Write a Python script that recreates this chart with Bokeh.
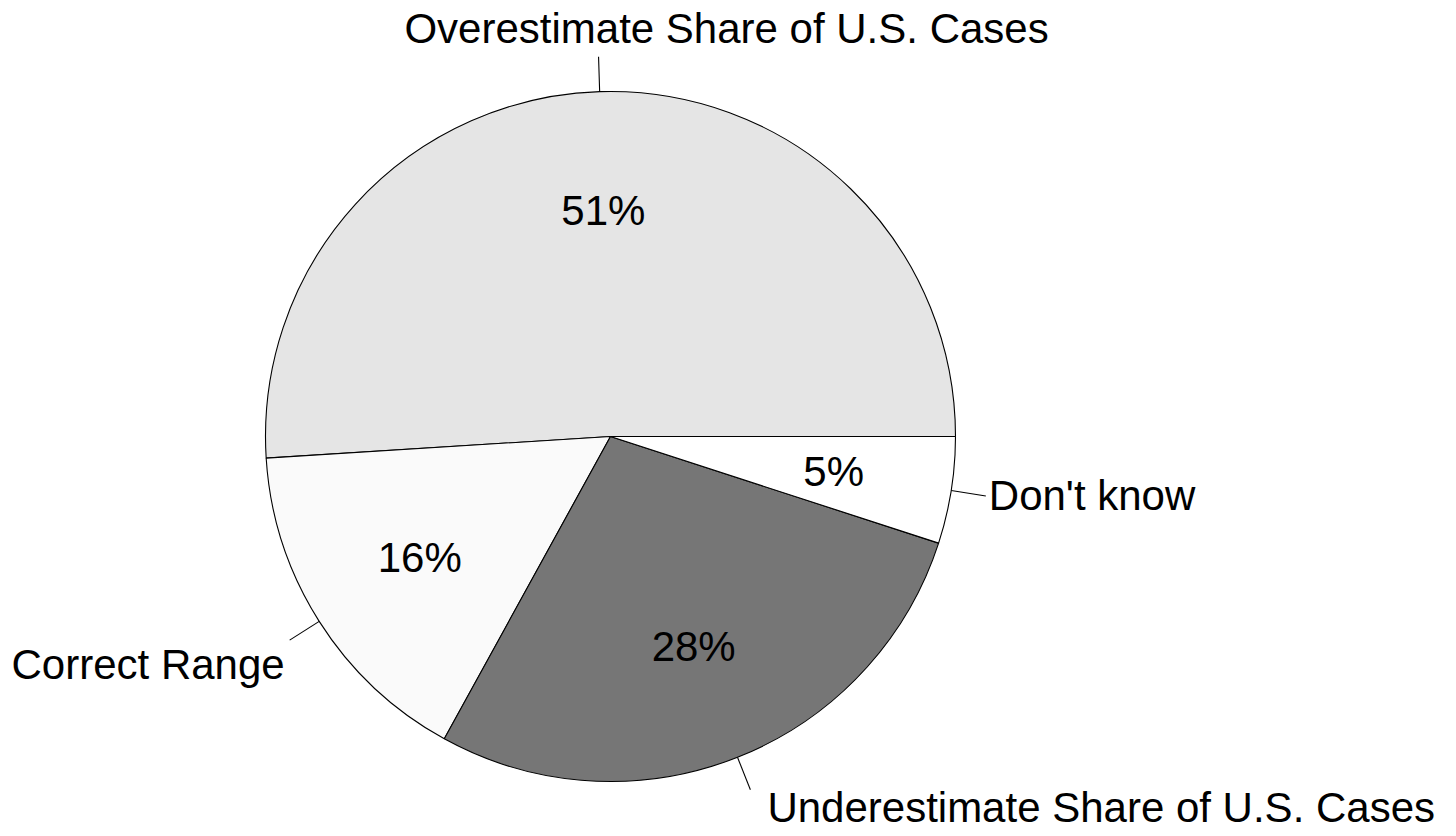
import math
from bokeh.plotting import figure
from bokeh.models import Range1d, ColumnDataSource
from bokeh.core.properties import value
from bokeh.embed import file_html
from bokeh.resources import INLINE

categories = ["Overestimate Share of U.S. Cases", "Correct Range", "Underestimate Share of U.S. Cases", "Don't know"]
shares = [51, 16, 28, 5]
pct_labels = ["51%", "16%", "28%", "5%"]
colors = ["#e5e5e5", "#fafafa", "#767676", "#ffffff"]

# label placement styles (offsets from leader-line end, in px; alignment)
label_dx = [128, -5, 17, 3]
label_dy = [28, -24, -18, 0]
label_align = ["center", "right", "left", "left"]

W, H = 1452, 834
cx, cy = 610, 436  # pie centre in figure pixels (from top-left)
R = 345
R_OUT = 380
R_PCT = 0.655 * R

p = figure(width=W, height=H, output_backend="svg", toolbar_location=None,
           x_range=Range1d(-cx, W - cx), y_range=Range1d(-(H - cy), cy),
           min_border=0, outline_line_color=None)
p.axis.visible = False
p.grid.visible = False
p.background_fill_color = "white"
p.border_fill_color = "white"

total = sum(shares)
starts, ends, mids = [], [], []
acc = 0.0
for s in shares:
    a0 = acc / total * 2 * math.pi
    acc += s
    a1 = acc / total * 2 * math.pi
    starts.append(a0)
    ends.append(a1)
    mids.append((a0 + a1) / 2)

src = ColumnDataSource(dict(start=starts, end=ends, color=colors))
p.wedge(x=0, y=0, radius=R, start_angle="start", end_angle="end", fill_color="color",
        line_color="black", line_width=1.1, direction="anticlock", source=src)

# leader lines
x0 = [R * math.cos(m) for m in mids]
y0 = [R * math.sin(m) for m in mids]
x1 = [R_OUT * math.cos(m) for m in mids]
y1 = [R_OUT * math.sin(m) for m in mids]
p.segment(x0=x0, y0=y0, x1=x1, y1=y1, line_color="black", line_width=1.1)

font = value("Liberation Sans")
for i, cat in enumerate(categories):
    p.text(x=[x1[i] + label_dx[i]], y=[y1[i] + label_dy[i]], text=[cat],
           text_font=font, text_font_size="42px", text_color="black",
           text_align=label_align[i], text_baseline="middle")

px = [R_PCT * math.cos(m) for m in mids]
py = [R_PCT * math.sin(m) for m in mids]
p.text(x=px, y=py, text=pct_labels, text_font=font, text_font_size="42px",
       text_color="black", text_align="center", text_baseline="middle")

open("out.html", "w").write(file_html(p, INLINE))
